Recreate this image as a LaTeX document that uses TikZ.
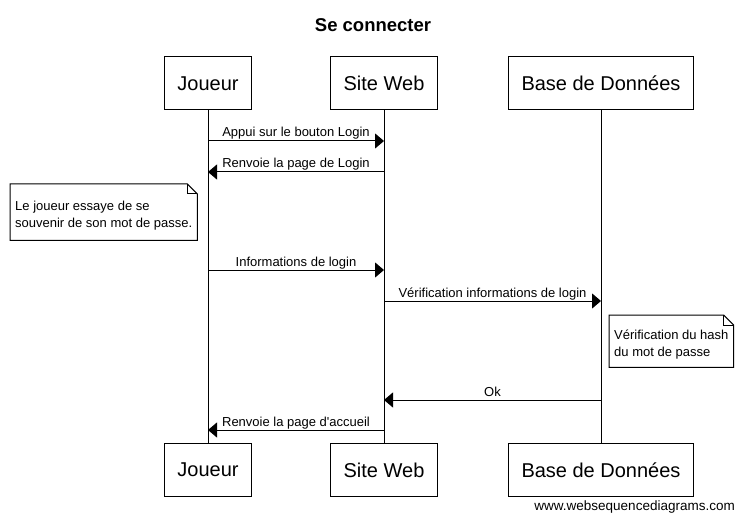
\documentclass[tikz,border=0pt]{standalone}
\usepackage{fontspec}
\setmainfont{Liberation Sans}
\usetikzlibrary{arrows.meta}

\begin{document}
\begin{tikzpicture}[
    x=1pt, y=-1pt,
    actor/.style={rectangle, draw, line width=1pt, minimum height=53pt, inner xsep=13pt, font=\fontsize{20}{24}\selectfont},
    lifeline/.style={line width=1pt},
    msg/.style={-{Triangle[length=9pt, width=15pt]}, line width=1pt},
    msglbl/.style={anchor=base, yshift=4pt, inner sep=0pt, font=\fontsize{13}{16}\selectfont},
    note/.style={anchor=north west, inner xsep=5pt, inner ysep=0pt, align=left, font=\fontsize{13}{17}\selectfont},
    notebox/.style={line width=1pt, line join=miter}
]
\useasboundingbox (0,0) rectangle (746,521);

% Title
\node[font=\fontsize{18.5}{22}\selectfont\bfseries] (title) at (373,25) {Se connecter};

% Actors (top)
\node[actor] (jtop) at (208,83.5) {Joueur};
\node[actor] (stop) at (384,83.5) {Site Web};
\node[actor] (btop) at (601,83.5) {Base de Données};

% Actors (bottom)
\node[actor] (jbot) at (208,470) {Joueur};
\node[actor] (sbot) at (384,470) {Site Web};
\node[actor] (bbot) at (601,470) {Base de Données};

% Lifelines
\draw[lifeline] (jtop) -- (jbot);
\draw[lifeline] (stop) -- (sbot);
\draw[lifeline] (btop) -- (bbot);

% Messages
\draw[msg] (jtop |- 0,141) -- node[msglbl] (m1) {Appui sur le bouton Login} (stop |- 0,141);
\draw[msg] (stop |- 0,172) -- node[msglbl] (m2) {Renvoie la page de Login} (jtop |- 0,172);
\draw[msg] (jtop |- 0,270) -- node[msglbl] (m3) {Informations de login} (stop |- 0,270);
\draw[msg] (stop |- 0,301) -- node[msglbl] (m4) {Vérification informations de login} (btop |- 0,301);
\draw[msg] (btop |- 0,400) -- node[msglbl] (m5) {Ok} (stop |- 0,400);
\draw[msg] (stop |- 0,430) -- node[msglbl] (m6) {Renvoie la page d\textquotesingle accueil} (jtop |- 0,430);

% Note on Joueur
\node[note, minimum height=56pt] (n1) at (10,187) {Le joueur essaye de se\\souvenir de son mot de passe.};
\draw[notebox] ([yshift=3pt]n1.north west) -- ([xshift=-10pt, yshift=3pt]n1.north east) -- ([yshift=-7pt]n1.north east) -- ([yshift=3pt]n1.south east) -- ([yshift=3pt]n1.south west) -- cycle;
\draw[notebox] ([xshift=-10pt, yshift=3pt]n1.north east) |- ([yshift=-7pt]n1.north east);

% Note on Base de Donnees
\node[note, minimum height=52pt] (n2) at (609,318) {Vérification du hash\\du mot de passe};
\draw[notebox] ([yshift=3pt]n2.north west) -- ([xshift=-10pt, yshift=3pt]n2.north east) -- ([yshift=-7pt]n2.north east) -- ([yshift=3pt]n2.south east) -- ([yshift=3pt]n2.south west) -- cycle;
\draw[notebox] ([xshift=-10pt, yshift=3pt]n2.north east) |- ([yshift=-7pt]n2.north east);

% Footer
\node[anchor=east, inner sep=0pt, font=\fontsize{13.5}{16}\selectfont] (footer) at (735,507) {www.websequencediagrams.com};

\end{tikzpicture}
\end{document}
